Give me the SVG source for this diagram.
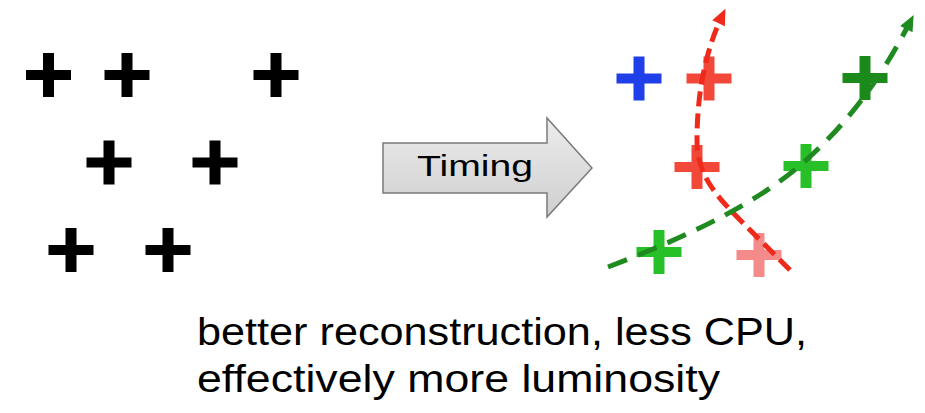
<svg xmlns="http://www.w3.org/2000/svg" xmlns:xlink="http://www.w3.org/1999/xlink" width="925" height="413" viewBox="0 0 925 413">
<style>
.txt{font-family:"Liberation Sans",Arial,sans-serif;fill:#000}
.cap{font-family:"Liberation Sans",Arial,sans-serif;font-size:39px;fill:#000}
.red{fill:none;stroke:#f02a1a;stroke-width:5;stroke-dasharray:15 7}
.grn{fill:none;stroke:#1f8a1f;stroke-width:5;stroke-dasharray:20 12}
</style>
<defs>
<g id="plus"><rect x="-22.5" y="-5" width="45" height="10"/><rect x="-5.5" y="-22" width="11" height="44"/></g>
<linearGradient id="ag" x1="0" y1="0" x2="0" y2="1"><stop offset="0" stop-color="#ececec"/><stop offset="1" stop-color="#cfcfcf"/></linearGradient>
<marker id="mr" markerUnits="userSpaceOnUse" markerWidth="20" markerHeight="20" viewBox="0 0 20 20" refX="10" refY="10" orient="auto"><path d="M2,3 L18,10 L2,17 z" fill="#f02a1a"/></marker>
<marker id="mg" markerUnits="userSpaceOnUse" markerWidth="20" markerHeight="20" viewBox="0 0 20 20" refX="10" refY="10" orient="auto"><path d="M2,3 L18,10 L2,17 z" fill="#1f8a1f"/></marker>
</defs>
<g id="before">
<use xlink:href="#plus" href="#plus" x="48.5" y="75" fill="#000"/>
<use xlink:href="#plus" href="#plus" x="127" y="75" fill="#000"/>
<use xlink:href="#plus" href="#plus" x="276" y="75" fill="#000"/>
<use xlink:href="#plus" href="#plus" x="109" y="162.5" fill="#000"/>
<use xlink:href="#plus" href="#plus" x="215" y="162.5" fill="#000"/>
<use xlink:href="#plus" href="#plus" x="71" y="250" fill="#000"/>
<use xlink:href="#plus" href="#plus" x="168" y="250" fill="#000"/>
</g>
<g id="timing-arrow">
<path d="M383,143 H547 V118 L592,168 L547,217 V193 H383 Z" fill="url(#ag)" stroke="#7a7a7a" stroke-width="1.5"/>
<text class="txt" x="417" y="176" font-size="30" textLength="116" lengthAdjust="spacingAndGlyphs" fill="#222">Timing</text>
</g>
<g id="after">
<use xlink:href="#plus" href="#plus" x="639" y="78.5" fill="#1f3fe8"/>
<use xlink:href="#plus" href="#plus" x="709" y="78.5" fill="#f2483a"/>
<use xlink:href="#plus" href="#plus" x="865" y="78" fill="#1a8a1a"/>
<use xlink:href="#plus" href="#plus" x="697" y="167" fill="#f2483a"/>
<use xlink:href="#plus" href="#plus" x="806" y="166" fill="#28c028"/>
<use xlink:href="#plus" href="#plus" x="659" y="252" fill="#28c028"/>
<use xlink:href="#plus" href="#plus" x="759" y="255" fill="#f58a8a"/>
</g>
<g id="connectors">
<path class="red" d="M790,270 L745,225 C715,195 697,175 697,140 C697,95 705,52 722,16" marker-end="url(#mr)"/>
<path class="grn" d="M608,267 C700,232 760,200 803,163 C840,130 875,90 910,22" marker-end="url(#mg)"/>
</g>
<g id="caption">
<text class="cap" x="197" y="345" textLength="610" lengthAdjust="spacingAndGlyphs">better reconstruction, less CPU,</text>
<text class="cap" x="197" y="392" textLength="523" lengthAdjust="spacingAndGlyphs">effectively more luminosity</text>
</g>
</svg>
